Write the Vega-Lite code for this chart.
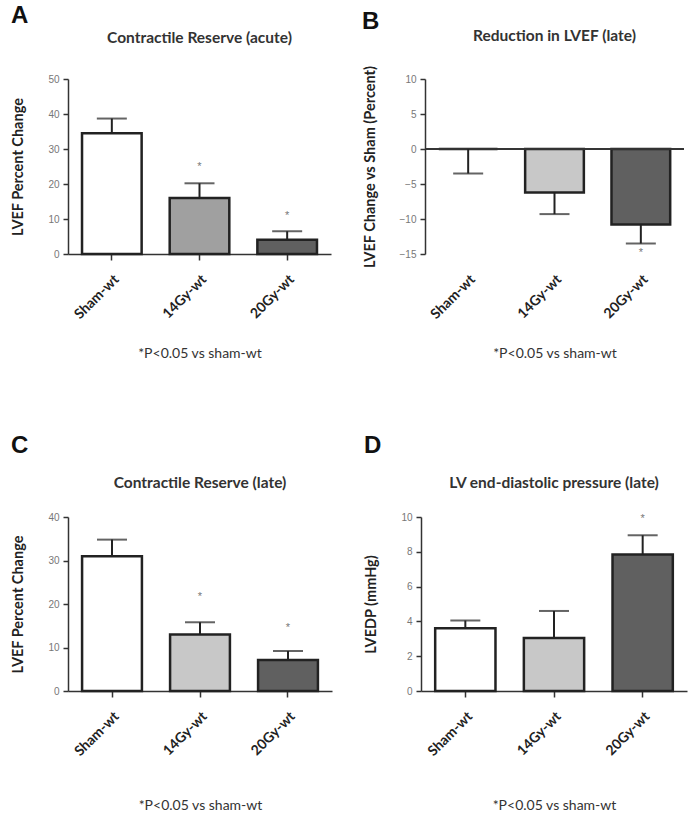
{
  "$schema": "https://vega.github.io/schema/vega-lite/v6.json",
  "background": "white",
  "padding": {"left": 10, "top": 3, "right": 4, "bottom": 0},
  "spacing": 72,
  "datasets": {
    "A": [
      {"group": "Sham-wt", "value": 34.5, "err": 38.7, "star": null},
      {"group": "14Gy-wt", "value": 16.0, "err": 20.2, "star": 25.0},
      {"group": "20Gy-wt", "value": 4.1, "err": 6.5, "star": 11.0}
    ],
    "B": [
      {"group": "Sham-wt", "value": 0.0, "err": -3.5, "star": null},
      {"group": "14Gy-wt", "value": -6.2, "err": -9.3, "star": null},
      {"group": "20Gy-wt", "value": -10.8, "err": -13.5, "star": -14.9}
    ],
    "C": [
      {"group": "Sham-wt", "value": 31.0, "err": 34.8, "star": null},
      {"group": "14Gy-wt", "value": 13.0, "err": 15.8, "star": 21.6},
      {"group": "20Gy-wt", "value": 7.1, "err": 9.2, "star": 14.5}
    ],
    "D": [
      {"group": "Sham-wt", "value": 3.6, "err": 4.05, "star": null},
      {"group": "14Gy-wt", "value": 3.05, "err": 4.6, "star": null},
      {"group": "20Gy-wt", "value": 7.85, "err": 8.95, "star": 9.9}
    ]
  },
  "config": {
    "view": {"stroke": null},
    "axis": {"grid": false, "domainColor": "#333", "domainWidth": 1.5, "tickColor": "#333", "tickWidth": 1.5, "tickSize": 5,
             "labelFont": "Liberation Sans", "labelFontSize": 10, "labelColor": "#777", "labelOverlap": false,
             "titleFont": "Lato", "titleFontSize": 14.5, "titleFontWeight": "bold", "titleColor": "#222"},
    "axisX": {"labelAngle": -45, "labelFont": "Lato", "labelFontWeight": "bold", "labelFontSize": 14, "labelColor": "#222",
              "labelPadding": 12, "tickSize": 6, "titleFontWeight": "normal", "titleFontSize": 14, "titleColor": "#333", "titlePadding": 25},
    "axisY": {"labelPadding": 4, "titlePadding": 22, "labelOverlap": false, "labelSeparation": 0, "labelFlush": false},
    "title": {"font": "Lato", "fontSize": 15.5, "fontWeight": "bold", "color": "#333", "frame": "group"},
    "concat": {"spacing": 31}
  },
  "resolve": {"scale": {"fill": "independent"}},
  "vconcat": [
    {
      "resolve": {"scale": {"fill": "independent"}},
      "hconcat": [
        {
          "title": {"text": "A", "anchor": "start", "frame": "bounds", "fontSize": 24, "font": "Liberation Sans", "fontWeight": "bold", "color": "#111", "offset": 3},
          "vconcat": [
            {
              "title": {"text": "Contractile Reserve (acute)", "offset": 28},
              "width": 263, "height": 175,
              "data": {"name": "A"},
              "encoding": {
                "x": {"field": "group", "type": "nominal", "sort": null, "scale": {"paddingInner": 0.32, "paddingOuter": 0.16},
                      "axis": {"title": "*P<0.05 vs sham-wt"}},
                "y": {"field": "value", "type": "quantitative", "scale": {"domain": [0, 50]},
                      "axis": {"title": "LVEF Percent Change", "values": [0, 10, 20, 30, 40, 50], "labelOverlap": false}}
              },
              "layer": [
                {"mark": {"type": "bar", "stroke": "#222", "strokeWidth": 2.5},
                 "encoding": {"fill": {"field": "group", "type": "nominal", "legend": null,
                                       "scale": {"domain": ["Sham-wt", "14Gy-wt", "20Gy-wt"], "range": ["#ffffff", "#a0a0a0", "#606060"]}}}},
                {"mark": {"type": "rule", "color": "#222", "strokeWidth": 2},
                 "encoding": {"y2": {"field": "err"}}},
                {"mark": {"type": "tick", "color": "#222", "thickness": 2, "size": 30},
                 "encoding": {"y": {"field": "err", "type": "quantitative"}}},
                {"mark": {"type": "text", "text": "*", "fontSize": 11, "fill": "#777", "baseline": "middle"},
                 "encoding": {"y": {"field": "star", "type": "quantitative"}}}
              ]
            }
          ]
        },
        {
          "title": {"text": "B", "anchor": "start", "frame": "bounds", "fontSize": 24, "font": "Liberation Sans", "fontWeight": "bold", "color": "#111", "offset": -5},
          "vconcat": [
            {
              "title": {"text": "Reduction in LVEF  (late)", "offset": 21},
              "width": 259, "height": 175,
              "data": {"name": "B"},
              "encoding": {
                "x": {"field": "group", "type": "nominal", "sort": null, "scale": {"paddingInner": 0.32, "paddingOuter": 0.16},
                      "axis": {"title": "*P<0.05 vs sham-wt", "domain": false, "ticks": false, "labelPadding": 18}},
                "y": {"field": "value", "type": "quantitative", "scale": {"domain": [-15, 10]},
                      "axis": {"title": "LVEF Change vs Sham (Percent)", "values": [-15, -10, -5, 0, 5, 10], "labelOverlap": false}}
              },
              "layer": [
                {"mark": {"type": "bar", "stroke": "#222", "strokeWidth": 2.5},
                 "encoding": {"fill": {"field": "group", "type": "nominal", "legend": null,
                                       "scale": {"domain": ["Sham-wt", "14Gy-wt", "20Gy-wt"], "range": ["#ffffff", "#c8c8c8", "#606060"]}}}},
                {"mark": {"type": "rule", "color": "#333", "strokeWidth": 1.5},
                 "encoding": {"y": {"datum": 0}, "x": {"value": 0}, "x2": {"value": 259}}},
                {"mark": {"type": "rule", "color": "#222", "strokeWidth": 2},
                 "encoding": {"y2": {"field": "err"}}},
                {"mark": {"type": "tick", "color": "#222", "thickness": 2, "size": 30},
                 "encoding": {"y": {"field": "err", "type": "quantitative"}}},
                {"mark": {"type": "text", "text": "*", "fontSize": 11, "fill": "#777", "baseline": "middle"},
                 "encoding": {"y": {"field": "star", "type": "quantitative"}}}
              ]
            }
          ]
        }
      ]
    },
    {
      "resolve": {"scale": {"fill": "independent"}},
      "hconcat": [
        {
          "title": {"text": "C", "anchor": "start", "frame": "bounds", "fontSize": 24, "font": "Liberation Sans", "fontWeight": "bold", "color": "#111", "offset": 18},
          "vconcat": [
            {
              "title": {"text": "Contractile Reserve (late)", "offset": 21},
              "width": 264, "height": 174,
              "data": {"name": "C"},
              "encoding": {
                "x": {"field": "group", "type": "nominal", "sort": null, "scale": {"paddingInner": 0.32, "paddingOuter": 0.16},
                      "axis": {"title": "*P<0.05 vs sham-wt", "titlePadding": 40}},
                "y": {"field": "value", "type": "quantitative", "scale": {"domain": [0, 40]},
                      "axis": {"title": "LVEF Percent Change", "values": [0, 10, 20, 30, 40], "labelOverlap": false}}
              },
              "layer": [
                {"mark": {"type": "bar", "stroke": "#222", "strokeWidth": 2.5},
                 "encoding": {"fill": {"field": "group", "type": "nominal", "legend": null,
                                       "scale": {"domain": ["Sham-wt", "14Gy-wt", "20Gy-wt"], "range": ["#ffffff", "#c8c8c8", "#606060"]}}}},
                {"mark": {"type": "rule", "color": "#222", "strokeWidth": 2},
                 "encoding": {"y2": {"field": "err"}}},
                {"mark": {"type": "tick", "color": "#222", "thickness": 2, "size": 30},
                 "encoding": {"y": {"field": "err", "type": "quantitative"}}},
                {"mark": {"type": "text", "text": "*", "fontSize": 11, "fill": "#777", "baseline": "middle"},
                 "encoding": {"y": {"field": "star", "type": "quantitative"}}}
              ]
            }
          ]
        },
        {
          "title": {"text": "D", "anchor": "start", "frame": "bounds", "fontSize": 24, "font": "Liberation Sans", "fontWeight": "bold", "color": "#111", "offset": 18},
          "vconcat": [
            {
              "title": {"text": "LV end-diastolic pressure (late)", "offset": 21},
              "width": 266, "height": 174,
              "data": {"name": "D"},
              "encoding": {
                "x": {"field": "group", "type": "nominal", "sort": null, "scale": {"paddingInner": 0.32, "paddingOuter": 0.16},
                      "axis": {"title": "*P<0.05 vs sham-wt", "titlePadding": 40}},
                "y": {"field": "value", "type": "quantitative", "scale": {"domain": [0, 10]},
                      "axis": {"title": "LVEDP (mmHg)", "values": [0, 2, 4, 6, 8, 10], "labelOverlap": false}}
              },
              "layer": [
                {"mark": {"type": "bar", "stroke": "#222", "strokeWidth": 2.5},
                 "encoding": {"fill": {"field": "group", "type": "nominal", "legend": null,
                                       "scale": {"domain": ["Sham-wt", "14Gy-wt", "20Gy-wt"], "range": ["#ffffff", "#c8c8c8", "#606060"]}}}},
                {"mark": {"type": "rule", "color": "#222", "strokeWidth": 2},
                 "encoding": {"y2": {"field": "err"}}},
                {"mark": {"type": "tick", "color": "#222", "thickness": 2, "size": 30},
                 "encoding": {"y": {"field": "err", "type": "quantitative"}}},
                {"mark": {"type": "text", "text": "*", "fontSize": 11, "fill": "#777", "baseline": "middle"},
                 "encoding": {"y": {"field": "star", "type": "quantitative"}}}
              ]
            }
          ]
        }
      ]
    }
  ]
}
